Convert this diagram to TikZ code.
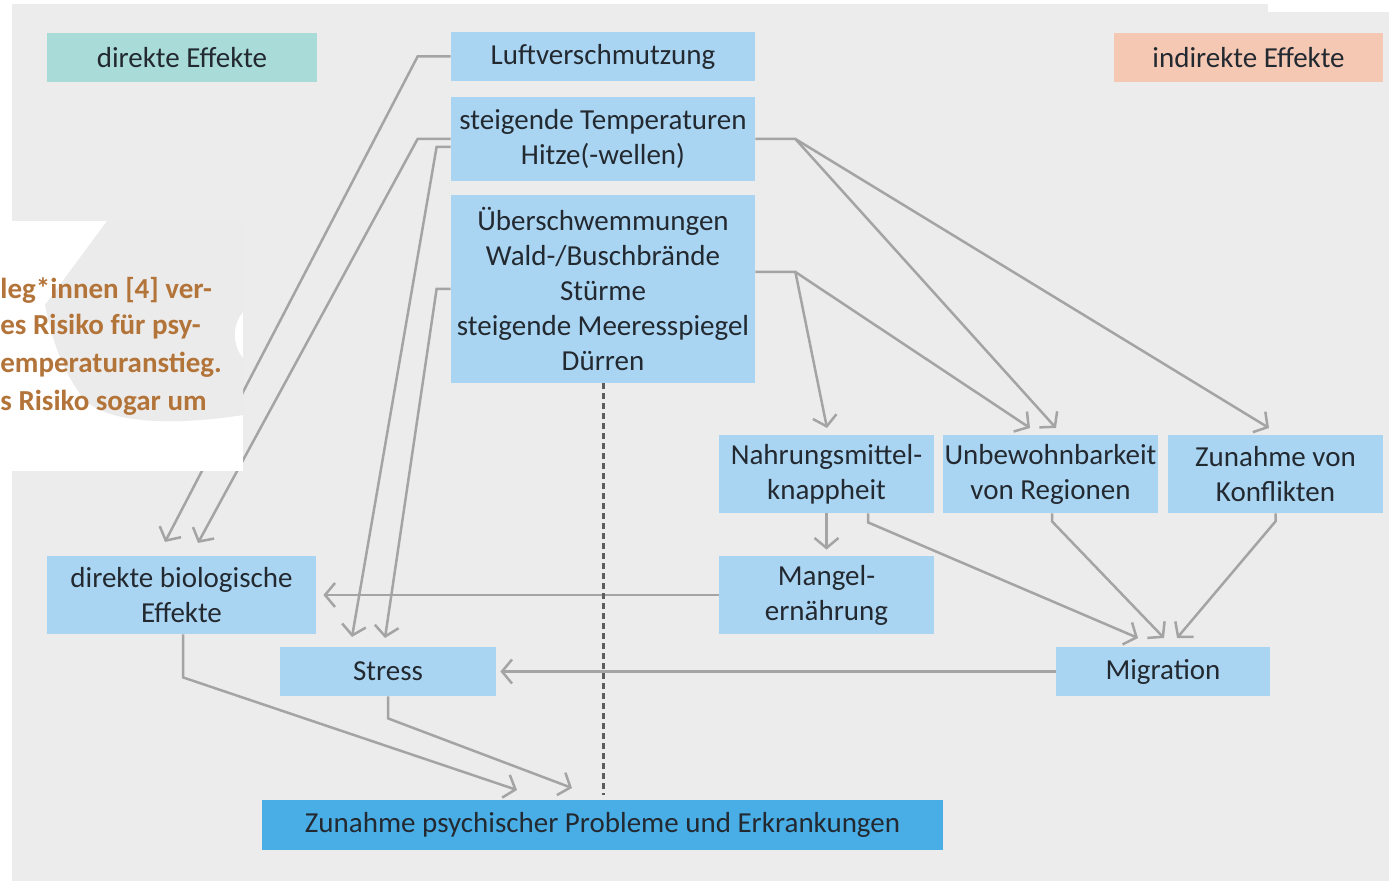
\documentclass[tikz,border=0pt]{standalone}
\usepackage{fontspec}
\setmainfont{Carlito}
\usetikzlibrary{arrows.meta}
\definecolor{bg}{HTML}{ECECEC}
\definecolor{lblue}{HTML}{AAD5F2}
\definecolor{dblue}{HTML}{4AAEE6}
\definecolor{teal}{HTML}{A9DCD8}
\definecolor{salmon}{HTML}{F5C8B4}
\definecolor{txt}{HTML}{232930}
\definecolor{lgrey}{HTML}{A4A4A4}
\definecolor{dashgrey}{HTML}{5C5C5C}
\definecolor{orangetxt}{HTML}{B3743A}
\definecolor{blob}{HTML}{EBEBEB}
\tikzset{
  box/.style={rectangle, fill=lblue, inner sep=0pt, align=center, text=txt,
    font=\fontsize{14.5}{17.5}\selectfont},
  conn/.style={draw=lgrey, line width=1.25pt,
    -{Straight Barb[length=5pt,width=12pt]}},
  dashline/.style={draw=dashgrey, line width=1.5pt, dash pattern=on 3pt off 2pt},
  overlaytxt/.style={anchor=west, inner sep=0pt, text=orangetxt,
    font=\fontsize{14.5}{17.5}\selectfont\bfseries}
}
\begin{document}
\begin{tikzpicture}[x=0.5pt,y=-0.5pt]
\useasboundingbox (0,0) rectangle (1389,881);
\fill[bg] (0,0) rectangle (1389,881);
\fill[white] (0,0) rectangle (12,881);
\fill[white] (0,0) rectangle (1389,4);
\fill[white] (1268,0) rectangle (1389,12);

% legend boxes
\node[box, fill=teal, minimum width=135pt, minimum height=24.5pt] (dir) at (182,57.5) {direkte Effekte};
\node[box, fill=salmon, minimum width=134.5pt, minimum height=24.5pt] (ind) at (1248.5,57.5) {indirekte Effekte};

% causes
\node[box, minimum width=152pt, minimum height=24.5pt] (luft) at (603,56.5) {Luftverschmutzung};
\node[box, minimum width=152pt, minimum height=42pt] (temp) at (603,139) {steigende Temperaturen\\Hitze(-wellen)};
\node[box, minimum width=152pt, minimum height=94pt] (flood) at (603,289) {Überschwemmungen\\Wald-/Buschbrände\\Stürme\\steigende Meeresspiegel\\Dürren};

% indirect
\node[box, minimum width=107.5pt, minimum height=39pt] (nahr) at (826.5,474) {Nahrungsmittel-\\knappheit};
\node[box, minimum width=107.5pt, minimum height=39pt] (unb) at (1050.5,474) {Unbewohnbarkeit\\von Regionen};
\node[box, minimum width=107.5pt, minimum height=39pt] (konf) at (1275.5,474) {Zunahme von\\Konflikten};
\node[box, minimum width=107.5pt, minimum height=39pt] (mangel) at (826.5,595) {Mangel-\\ernährung};
\node[box, minimum width=107pt, minimum height=24.5pt] (mig) at (1163,671.5) {Migration};

% direct
\node[box, minimum width=134.5pt, minimum height=39pt] (bio) at (181.5,595) {direkte biologische\\Effekte};
\node[box, minimum width=108pt, minimum height=24.5pt] (stress) at (388,671.5) {Stress};

% outcome
\node[box, fill=dblue, minimum width=340.5pt, minimum height=25pt] (psych) at (602.5,825) {Zunahme psychischer Probleme und Erkrankungen};

% arrow tip coordinates
\coordinate (t1) at (165,542);
\coordinate (t2) at (198,543);
\coordinate (t3) at (352,637);
\coordinate (t4) at (385,638);
\coordinate (t5) at (1056,428);
\coordinate (t6) at (1269,428);
\coordinate (t7) at (827,428);
\coordinate (t8) at (1030,428);
\coordinate (t9) at (1138,638);
\coordinate (t10) at (1164,638);
\coordinate (t11) at (1177,638);
\coordinate (t12) at (517,790);
\coordinate (t13) at (572,788);
\coordinate (d1) at (603,795);

% connectors left
\draw[conn] (luft.west) -- ++(-33,0) -- (t1);
\draw[conn] (temp.west) -- ++(-33,0) -- (t2);
\draw[conn] ([yshift=-4pt]temp.west) -- ++(-14,0) -- (t3);
\draw[conn] (flood.west) -- ++(-14,0) -- (t4);

% connectors right
\draw[conn] (temp.east) -- ++(40,0) coordinate (b1) -- (t5);
\draw[conn] (b1) -- (t6);
\draw[conn] ([yshift=8.5pt]flood.east) -- ++(40,0) coordinate (b2) -- (t7);
\draw[conn] (b2) -- (t8);

\draw[conn, shorten >=3pt] (nahr.south) -- (mangel.north);
\draw[conn] ([xshift=20.75pt]nahr.south) -- ++(0,9) -- (t9);
\draw[conn] ([xshift=0.75pt]unb.south) -- ++(0,8) -- (t10);
\draw[conn] (konf.south) -- ++(0,8) -- (t11);

\draw[conn, shorten >=3.5pt] (mangel.west) -- (bio.east);
\draw[conn, shorten >=2pt] (mig.west) -- (stress.east);

\draw[conn] ([xshift=0.75pt]bio.south) -- ++(0,43) -- (t12);
\draw[conn] (stress.south) -- ++(0,22) -- (t13);

\draw[dashline] (flood.south) -- (d1);

% overlay fragment
\fill[white] (0,221) rectangle (243,471);
\fill[blob] (107,221) -- (243,221) -- (243,312) .. controls (232,325) and (232,345) .. (243,358) -- (243,415) .. controls (180,425) and (110,425) .. (85,400) .. controls (60,370) and (50,330) .. (45,305) -- cycle;
\node[overlaytxt] (o1) at (0,290) {leg*innen [4] ver-};
\node[overlaytxt] (o2) at (0,327) {es Risiko für psy-};
\node[overlaytxt] (o3) at (0,365) {emperaturanstieg.};
\node[overlaytxt] (o4) at (0,403) {s Risiko sogar um};
\end{tikzpicture}
\end{document}
